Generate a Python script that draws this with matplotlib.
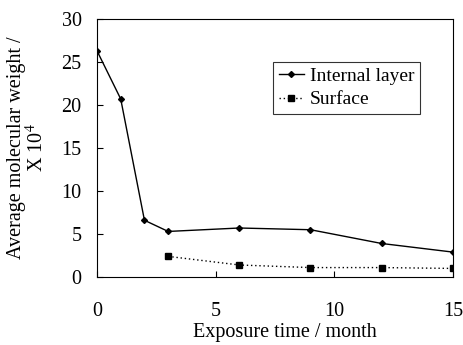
import matplotlib
matplotlib.use("Agg")
import matplotlib.pyplot as plt

months_internal = [0, 1, 2, 3, 6, 9, 12, 15]
internal_layer = [26.3, 20.7, 6.6, 5.3, 5.7, 5.5, 3.9, 2.9]
months_surface = [3, 6, 9, 12, 15]
surface = [2.4, 1.4, 1.1, 1.1, 1.0]

plt.rcParams["font.family"] = ["Liberation Serif", "DejaVu Serif"]
plt.rcParams["mathtext.fontset"] = "stix"

fig = plt.figure(figsize=(4.63, 3.45), dpi=100)
ax = fig.add_axes([0.2095, 0.197, 0.7685, 0.748])

ax.plot(months_internal, internal_layer, color="black", lw=1, marker="D",
        markersize=3, label="Internal layer")
ax.plot(months_surface, surface, color="black", lw=1, ls=(0, (1, 2)), marker="s",
        markersize=4.5, label="Surface")

ax.set_xlim(0, 15)
ax.set_ylim(0, 30)
ax.set_xticks([0, 5, 10, 15])
ax.set_yticks([0, 5, 10, 15, 20, 25, 30])
ax.tick_params(axis="x", direction="in", length=4, pad=18, labelsize=14.5)
ax.tick_params(axis="y", direction="in", length=4, pad=11, labelsize=14.5)
ax.set_xlabel("Exposure time / month", fontsize=14.5, labelpad=4)
ax.xaxis.set_label_coords(0.528, -0.18)
ax.set_ylabel("Average molecular weight /\nX 10$^4$", fontsize=14.5, labelpad=10,
              linespacing=1.0)

leg = ax.legend(loc="upper left", bbox_to_anchor=(0.494, 0.835), borderaxespad=0,
                fontsize=14, frameon=True, fancybox=False, edgecolor="black",
                handlelength=1.3, handletextpad=0.3, borderpad=0.3, labelspacing=0.3)
leg.get_frame().set_linewidth(0.8)

fig.savefig("out.png", dpi=100)
